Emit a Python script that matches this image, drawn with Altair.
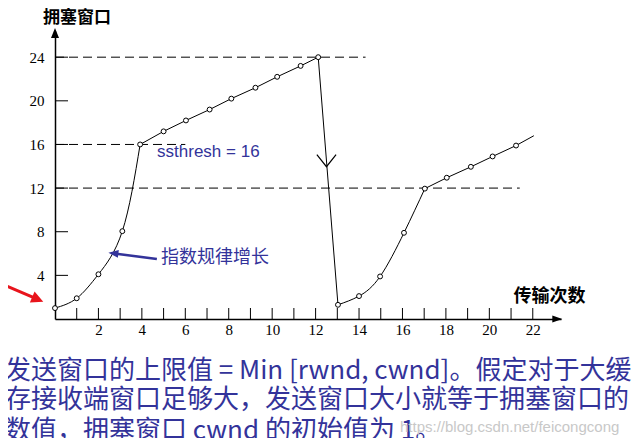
import altair as alt
import pandas as pd

# ---- data ----------------------------------------------------------------
# transmission round (as drawn) and congestion window value of each point
rounds = [0, 1, 2, 3.1, 3.92, 5.0, 6.03, 7.12, 8.12, 9.23, 10.23, 11.31, 12.12,
          13.03, 14.0, 14.97, 16.07, 17.03, 18.04, 19.15, 20.15, 21.23]
cwnd = [1, 1.9, 4.1, 8.05, 16, 17.2, 18.2, 19.2, 20.2, 21.2, 22.2, 23.2, 24,
        1.3, 2.1, 3.9, 7.9, 11.95, 12.95, 13.95, 14.9, 15.9]
# the last line continues past the last point
tail_round = [22.05]
tail_cwnd = [16.8]

# segments of the curve: name, first index, last index, curved?
seg_names = ["slow1", "avoid1", "drop", "slow2", "avoid2"]
seg_start = [0, 4, 12, 13, 17]
seg_end = [4, 12, 13, 17, 21]
seg_curved = [True, False, False, True, False]

# dashed threshold lines: level and where they stop
thresh_level = [24, 16, 12]
thresh_stop = [14.3, 6.0, 21.4]

x_labels = [2, 4, 6, 8, 10, 12, 14, 16, 18, 20, 22]
x_minor = list(range(1, 23))
y_labels = [4, 8, 12, 16, 20, 24]

y_title = "拥塞窗口"
x_title = "传输次数"
note_ssthresh = "ssthresh = 16"
note_growth = "指数规律增长"
caption_lines = [
    "发送窗口的上限值 = Min [rwnd, cwnd]。假定对于大缓",
    "存接收端窗口足够大，发送窗口大小就等于拥塞窗口的",
    "数值，拥塞窗口 cwnd 的初始值为 1。",
]
watermark = "https://blog.csdn.net/feicongcong"

NAVY = "#33339a"

# ---- tables ---------------------------------------------------------------
rows = []
for name, a, b, curved in zip(seg_names, seg_start, seg_end, seg_curved):
    for i in range(a, b + 1):
        rows.append({"r": rounds[i], "c": cwnd[i], "seg": name, "curved": curved})
    if name == "avoid2":
        rows.append({"r": tail_round[0], "c": tail_cwnd[0], "seg": name, "curved": curved})
lines_df = pd.DataFrame(rows)
points_df = pd.DataFrame({"r": rounds, "c": cwnd})
thresh_df = pd.DataFrame({"x0": [0] * len(thresh_level), "x1": thresh_stop, "y": thresh_level})
xt_df = pd.DataFrame({"r": x_minor})
yt_df = pd.DataFrame({"c": y_labels})

xscale = alt.Scale(domain=[0, 23.3], nice=False, zero=False)
yscale = alt.Scale(domain=[0, 26.4], nice=False, zero=False)
xaxis = alt.Axis(values=x_labels, tickSize=0, labelFont="Liberation Serif", labelFontSize=15,
                 labelColor="black", labelPadding=3, domainColor="black", domainWidth=1.5,
                 grid=False, title=None, labelOverlap=False, labelFlush=False)
yaxis = alt.Axis(values=y_labels, tickSize=0, labelFont="Liberation Serif", labelFontSize=15,
                 labelColor="black", labelPadding=11, domainColor="black", domainWidth=1.5,
                 grid=False, title=None, labelOverlap=False, labelFlush=False)


def X(f):
    return alt.X(f, type="quantitative", scale=xscale, axis=xaxis)


def Y(f):
    return alt.Y(f, type="quantitative", scale=yscale, axis=yaxis)


layers = []

# dashed reference lines
layers.append(alt.Chart(thresh_df).mark_rule(color="black", strokeWidth=1, strokeDash=[9, 5]).encode(
    x=X("x0"), x2=alt.X2("x1"), y=Y("y")))

# axis ticks (pointing inward)
layers.append(alt.Chart(xt_df).mark_rule(color="black", strokeWidth=1).encode(
    x=X("r"), y=alt.value(288), y2=alt.value(277)))
layers.append(alt.Chart(yt_df).mark_rule(color="black", strokeWidth=1).encode(
    y=Y("c"), x=alt.value(0), x2=alt.value(13)))

# curve segments
layers.append(alt.Chart(lines_df).transform_filter("datum.curved").mark_line(
    color="black", strokeWidth=1, interpolate="natural").encode(
    x=X("r"), y=Y("c"), detail="seg:N", order="r:Q"))
layers.append(alt.Chart(lines_df).transform_filter("!datum.curved").mark_line(
    color="black", strokeWidth=1).encode(
    x=X("r"), y=Y("c"), detail="seg:N", order="r:Q"))

# open circles
layers.append(alt.Chart(points_df).mark_point(shape="circle", filled=True, fill="white",
                                              stroke="black", strokeWidth=1, size=24, opacity=1).encode(
    x=X("r"), y=Y("c")))

# axis arrowheads
layers.append(alt.Chart(pd.DataFrame({"r": [23.36], "c": [0]})).mark_point(
    shape="M0,0L-1,-0.35L-1,0.35Z", filled=True, color="black", size=400, opacity=1).encode(
    x=X("r"), y=Y("c")))
layers.append(alt.Chart(pd.DataFrame({"r": [0], "c": [26.67]})).mark_point(
    shape="M0,0L-0.4,1L0.4,1Z", filled=True, color="black", size=400, opacity=1).encode(
    x=X("r"), y=Y("c")))

# open "V" arrow on the drop line
layers.append(alt.Chart(pd.DataFrame({"r": [12.5], "c": [13.96]})).mark_point(
    shape="M-0.8,-1L0,0L0.8,-1", filled=False, color="black", strokeWidth=1.2, size=576, opacity=1).encode(
    x=X("r"), y=Y("c")))

# blue arrow to the exponential part
layers.append(alt.Chart(pd.DataFrame({"r": [4.69], "c": [5.5], "r2": [2.73], "c2": [6.01]})).mark_rule(
    color=NAVY, strokeWidth=2.5).encode(x=X("r"), y=Y("c"), x2="r2", y2="c2"))
layers.append(alt.Chart(pd.DataFrame({"r": [2.46], "c": [6.08]})).mark_point(
    shape="M0,0L-1,-0.4L-1,0.4Z", filled=True, color=NAVY, size=400, angle=187, opacity=1).encode(
    x=X("r"), y=Y("c")))

# red arrow to the first point
layers.append(alt.Chart(pd.DataFrame({"r": [-2.23], "c": [3.02], "r2": [-0.84], "c2": [1.84]})).mark_rule(
    color="#e8141c", strokeWidth=3).encode(x=X("r"), y=Y("c"), x2="r2", y2="c2"))
layers.append(alt.Chart(pd.DataFrame({"r": [-0.54], "c": [1.58]})).mark_point(
    shape="M0,0L-1,-0.5L-1,0.5Z", filled=True, color="#e8141c", size=576, angle=23, opacity=1).encode(
    x=X("r"), y=Y("c")))

# annotations in data coordinates
layers.append(alt.Chart(pd.DataFrame({"r": [4.7], "c": [15.3], "t": [note_ssthresh]})).mark_text(
    align="left", baseline="middle", font="Liberation Sans", fontSize=17, color=NAVY).encode(
    x=X("r"), y=Y("c"), text="t:N"))
layers.append(alt.Chart(pd.DataFrame({"r": [4.88], "c": [5.56], "t": [note_growth]})).mark_text(
    align="left", baseline="middle", font="Noto Sans CJK SC", fontSize=18, color=NAVY).encode(
    x=X("r"), y=Y("c"), text="t:N"))

# axis titles (pixel positions)
layers.append(alt.Chart(pd.DataFrame({"px": [22], "py": [-13], "t": [y_title]})).mark_text(
    align="center", baseline="middle", font="Noto Sans CJK SC", fontSize=17, fontWeight="bold",
    color="black").encode(x=alt.X("px:Q", scale=None), y=alt.Y("py:Q", scale=None), text="t:N"))
layers.append(alt.Chart(pd.DataFrame({"px": [494.5], "py": [266], "t": [x_title]})).mark_text(
    align="center", baseline="middle", font="Noto Sans CJK SC", fontSize=18, fontWeight="bold",
    color="black").encode(x=alt.X("px:Q", scale=None), y=alt.Y("py:Q", scale=None), text="t:N"))

# caption below the chart
cap_df = pd.DataFrame({"px": [-50, -50, -50], "py": [340, 369, 400], "t": caption_lines})
layers.append(alt.Chart(cap_df).mark_text(
    align="left", baseline="middle", font="Noto Sans CJK SC", fontSize=26, color=NAVY).encode(
    x=alt.X("px:Q", scale=None), y=alt.Y("py:Q", scale=None), text="t:N"))

# watermark
layers.append(alt.Chart(pd.DataFrame({"px": [345], "py": [396], "t": [watermark]})).mark_text(
    align="left", baseline="middle", font="Liberation Sans", fontSize=15, color="#c8c8c8").encode(
    x=alt.X("px:Q", scale=None), y=alt.Y("py:Q", scale=None), text="t:N"))

chart = alt.layer(*layers).properties(
    width=506, height=288,
    padding={"left": 47, "top": 23, "right": 74, "bottom": 119},
    autosize=alt.AutoSizeParams(type="none"),
    background="white",
).configure_view(stroke=None)

chart.save("out.html", embed_options={"renderer": "svg", "actions": False})
